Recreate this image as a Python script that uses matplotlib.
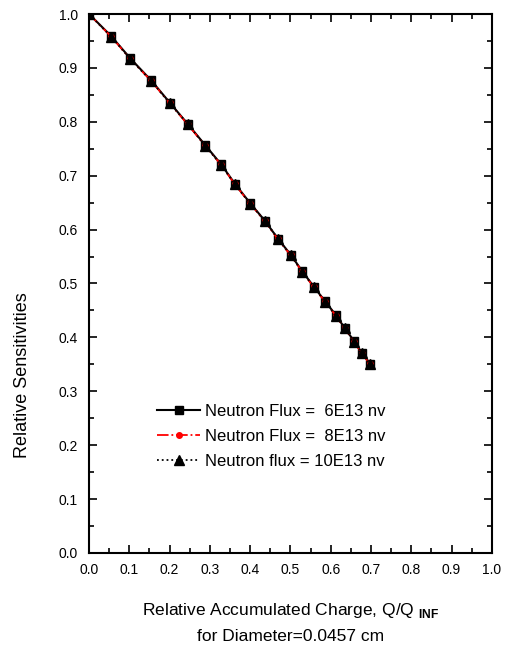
import matplotlib
matplotlib.use('Agg')
import matplotlib.pyplot as plt
from matplotlib.ticker import MultipleLocator

plt.rcParams['font.family'] = ['Liberation Sans', 'DejaVu Sans']
plt.rcParams['mathtext.fontset'] = 'custom'
plt.rcParams['mathtext.rm'] = 'Liberation Sans'
plt.rcParams['mathtext.bf'] = 'Liberation Sans:bold'

# ---------------------------------------------------------------------------
# Dati
# ---------------------------------------------------------------------------
charge = [0.0, 0.055, 0.102, 0.154, 0.201, 0.246, 0.288, 0.328, 0.362, 0.400,
          0.437, 0.469, 0.501, 0.529, 0.558, 0.586, 0.613, 0.635, 0.658, 0.677, 0.698]
sens_6e13 = [1.000, 0.959, 0.918, 0.877, 0.835, 0.795, 0.757, 0.721, 0.685, 0.649,
             0.616, 0.583, 0.553, 0.523, 0.494, 0.467, 0.441, 0.417, 0.393, 0.371, 0.351]
sens_8e13 = [1.000, 0.958, 0.917, 0.876, 0.834, 0.794, 0.756, 0.720, 0.684, 0.648,
             0.615, 0.582, 0.552, 0.522, 0.493, 0.466, 0.440, 0.416, 0.392, 0.370, 0.350]
sens_10e13 = [1.000, 0.958, 0.917, 0.876, 0.834, 0.795, 0.756, 0.720, 0.684, 0.648,
              0.616, 0.583, 0.552, 0.522, 0.494, 0.466, 0.440, 0.417, 0.392, 0.371, 0.350]

labels = ['Neutron Flux =  6E13 nv', 'Neutron Flux =  8E13 nv', 'Neutron flux = 10E13 nv']

# ---------------------------------------------------------------------------
# Plot
# ---------------------------------------------------------------------------
fig = plt.figure(figsize=(5.06, 6.52), dpi=100)
ax = fig.add_axes([0.176, 0.152, 0.796, 0.8265])

ax.plot(charge, sens_6e13, color='black', linestyle='-', linewidth=1.5,
        marker='s', markersize=6, label=labels[0])
ax.plot(charge, sens_8e13, color='red', linestyle='-.', linewidth=1.3,
        marker='o', markersize=4, label=labels[1])
ax.plot(charge, sens_10e13, color='black', linestyle=':', linewidth=1.3,
        marker='^', markersize=7.5, label=labels[2])

ax.set_xlim(0, 1.0)
ax.set_ylim(0, 1.0)
ax.xaxis.set_major_locator(MultipleLocator(0.1))
ax.xaxis.set_minor_locator(MultipleLocator(0.05))
ax.yaxis.set_major_locator(MultipleLocator(0.1))
ax.yaxis.set_minor_locator(MultipleLocator(0.05))
ax.tick_params(which='both', direction='in', top=True, right=True, width=1.2,
               labelsize=10)
ax.tick_params(which='major', length=6)
ax.tick_params(which='minor', length=3.5)
ax.tick_params(axis='x', which='major', pad=7)
ax.tick_params(axis='y', which='major', pad=8)
ax.xaxis.set_major_formatter(plt.FuncFormatter(lambda v, p: f'{v:.1f}'))
ax.yaxis.set_major_formatter(plt.FuncFormatter(lambda v, p: f'{v:.1f}'))
for s in ax.spines.values():
    s.set_linewidth(1.5)

ax.set_ylabel('Relative Sensitivities', fontsize=13)
ax.yaxis.set_label_coords(-0.145, 0.33)
ax.set_xlabel('Relative Accumulated Charge, Q/Q $_{\\mathbf{INF}}$\nfor Diameter=0.0457 cm',
              fontsize=12.5, linespacing=1.75)
ax.xaxis.set_label_coords(0.5, -0.09)

ax.legend(loc='lower left', bbox_to_anchor=(0.14, 0.134), frameon=False,
          fontsize=12, handlelength=2.6, handletextpad=0.25, labelspacing=0.6,
          borderpad=0.2)

plt.savefig('out.png', dpi=100)
